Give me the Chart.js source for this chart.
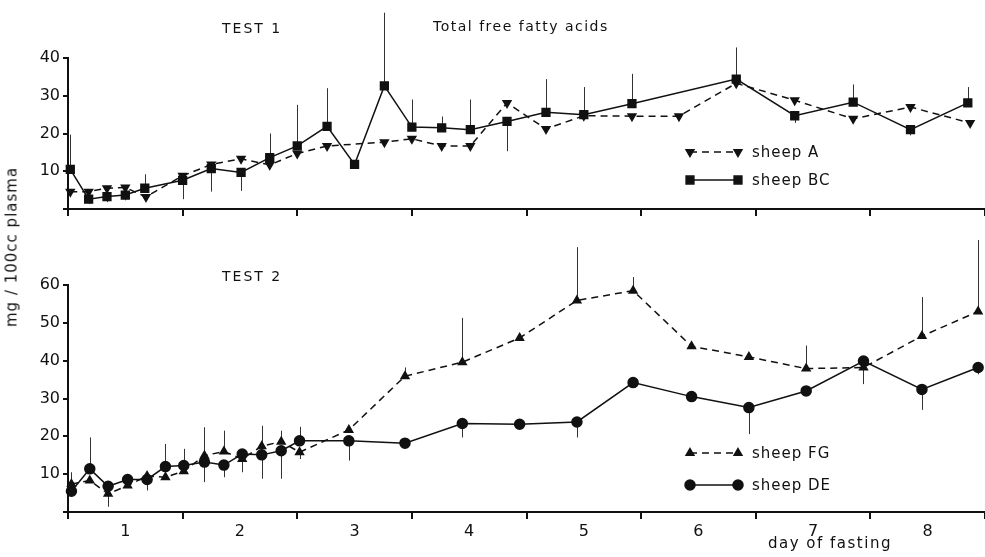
<!DOCTYPE html>
<html>
<head>
<meta charset="utf-8">
<script src="https://cdn.jsdelivr.net/npm/chart.js@4.4.0/dist/chart.umd.min.js"></script>
<style>
body { margin: 0; background: #fff; }
#wrap { position: relative; width: 985px; height: 557px; font-family: "DejaVu Sans", sans-serif; color: #111; }
#topChart { position: absolute; left: 0; top: 0; }
#bottomChart { position: absolute; left: 0; top: 230px; }
.lbl { position: absolute; font-size: 14px; white-space: nowrap; line-height: 1; }
</style>
</head>
<body>
<div id="wrap">
  <canvas id="topChart" width="985" height="230"></canvas>
  <canvas id="bottomChart" width="985" height="327"></canvas>
  <div class="lbl" style="left:222px;top:21px;letter-spacing:2px;">TEST 1</div>
  <div class="lbl" style="left:433px;top:19px;letter-spacing:1.5px;">Total free fatty acids</div>
  <div class="lbl" style="left:222px;top:269px;letter-spacing:2px;">TEST 2</div>
  <div class="lbl" style="left:768px;top:536px;font-size:15px;letter-spacing:1.5px;">day of fasting</div>
  <div class="lbl" style="left:12px;top:247px;font-size:15px;letter-spacing:1px;transform:translate(-50%,-50%) rotate(-90deg);">mg / 100cc plasma</div>
</div>
<script>
// x axis: day of fasting (tick marks at whole days, labels in the middle)
var dayLabels = ['1', '2', '3', '4', '5', '6', '7', '8'];
var topTicks = [10, 20, 30, 40];
var bottomTicks = [10, 20, 30, 40, 50, 60];

// TEST 1
var tA = [0.02, 0.18, 0.34, 0.5, 0.68, 1.0, 1.25, 1.51, 1.76, 2.0, 2.26, 2.76, 3.0, 3.26, 3.51, 3.83, 4.17, 4.5, 4.92, 5.33, 5.83, 6.34, 6.85, 7.35, 7.87];
var sheepA = [4.6, 4.6, 5.5, 5.7, 3.2, 8.8, 11.8, 13.3, 11.7, 14.7, 16.7, 17.7, 18.6, 16.7, 16.7, 28.1, 21.2, 24.7, 24.6, 24.6, 33.3, 28.8, 23.9, 27, 22.8];
var tBC = [0.02, 0.18, 0.34, 0.5, 0.67, 1.0, 1.25, 1.51, 1.76, 2.0, 2.26, 2.5, 2.76, 3.0, 3.26, 3.51, 3.83, 4.17, 4.5, 4.92, 5.83, 6.34, 6.85, 7.35, 7.85];
var sheepBC = [10.5, 2.6, 3.3, 3.7, 5.5, 7.6, 10.7, 9.7, 13.6, 16.7, 21.9, 11.8, 32.6, 21.7, 21.5, 21.0, 23.2, 25.6, 25, 27.9, 34.4, 24.7, 28.3, 21, 28.1];
// end of the S.E. bar for each point (null = no bar)
var errBC = [19.7, 1.3, 1.8, 2.3, 9.2, 2.6, 4.6, 4.8, 20, 27.6, 32, null, 52, 29, 24.5, 29, 15.3, 34.4, 32.3, 35.8, 42.8, 22.8, 33, 19.5, 32.3];

// TEST 2
var tTest2 = [0.03, 0.19, 0.35, 0.52, 0.69, 0.85, 1.01, 1.19, 1.36, 1.52, 1.69, 1.86, 2.02, 2.45, 2.94, 3.44, 3.94, 4.44, 4.93, 5.44, 5.94, 6.44, 6.94, 7.45, 7.94];
var sheepFG = [7.4, 8.3, 4.8, 7, 9.5, 9.2, 10.8, 14.9, 16, 14, 17.4, 18.6, 15.8, 21.7, 35.9, 39.6, 46, 55.9, 58.5, 43.8, 41, 37.9, 38.2, 46.5, 53];
var sheepDE = [5.5, 11.4, 6.8, 8.6, 8.6, 12, 12.3, 13.2, 12.4, 15.3, 15.1, 16.2, 18.8, 18.8, 18.2, 23.4, 23.2, 23.8, 34.2, 30.5, 27.6, 32, 39.9, 32.4, 38.2];
var errFG = [10.5, null, 1.4, null, null, null, null, 22.4, 21.5, 10.5, 22.8, 21.5, 14, null, 38.2, 51.3, null, 70, 62.1, null, null, 44, 33.8, 56.8, 71.9];
var errDE = [null, 19.7, null, null, 5.7, 18, 16.7, 7.9, 9.2, null, 8.8, 8.8, 22.5, 13.6, null, 19.7, null, 19.7, null, null, 20.6, null, null, 27, 36.4];

function pts(t, v) {
  return t.map(function (x, i) { return { x: x, y: v[i] }; });
}

var ink = '#111';
var font = { family: '"DejaVu Sans", sans-serif', size: 16 };

var errorBars = {
  id: 'errorBars',
  beforeDatasetsDraw: function (chart) {
    var ctx = chart.ctx, xs = chart.scales.x, ys = chart.scales.y;
    ctx.save();
    ctx.strokeStyle = '#333';
    ctx.lineWidth = 1;
    chart.data.datasets.forEach(function (ds) {
      if (!ds.tips) return;
      ds.data.forEach(function (p, i) {
        var tip = ds.tips[i];
        if (tip == null) return;
        var x = Math.round(xs.getPixelForValue(p.x)) + 0.5;
        ctx.beginPath();
        ctx.moveTo(x, ys.getPixelForValue(p.y));
        ctx.lineTo(x, ys.getPixelForValue(tip));
        ctx.stroke();
      });
    });
    ctx.restore();
  }
};

var sampleLegend = {
  id: 'sampleLegend',
  afterDraw: function (chart, args, opts) {
    var ctx = chart.ctx;
    chart.data.datasets.forEach(function (ds, k) {
      var y = opts.y[k];
      ctx.save();
      ctx.strokeStyle = ink;
      ctx.fillStyle = ink;
      ctx.lineWidth = 1.5;
      ctx.setLineDash(ds.borderDash || []);
      ctx.beginPath();
      ctx.moveTo(opts.x0, y);
      ctx.lineTo(opts.x1, y);
      ctx.stroke();
      ctx.setLineDash([]);
      [opts.x0, opts.x1].forEach(function (x) {
        Chart.helpers.drawPoint(ctx, {
          pointStyle: ds.pointStyle, radius: ds.pointRadius,
          rotation: ds.pointRotation || 0, borderWidth: 1
        }, x, y);
      });
      ctx.font = '15px "DejaVu Sans"';
      ctx.letterSpacing = '1px';
      ctx.textBaseline = 'middle';
      ctx.fillText(ds.label, opts.tx, y + 1);
      ctx.restore();
    });
  }
};

function makeScales(yMax, yTicks, xLabels, xHeight) {
  return {
    x: {
      type: 'linear', min: 0, max: 8,
      afterFit: function (s) { s.height = xHeight; s.paddingLeft = 0; s.paddingRight = 0; },
      border: { display: true, color: ink, width: 2 },
      grid: {
        drawOnChartArea: false, tickLength: 7, lineWidth: 2,
        tickColor: function (c) { return Number.isInteger(c.tick.value) ? ink : 'rgba(0,0,0,0)'; }
      },
      ticks: {
        stepSize: 0.5, autoSkip: false, maxRotation: 0, padding: 3, color: ink, font: font,
        callback: function (v) {
          if (!xLabels || Number.isInteger(v)) return '';
          return dayLabels[Math.floor(v)];
        }
      }
    },
    y: {
      min: 0, max: yMax,
      afterFit: function (s) { s.width = 68; },
      border: { display: true, color: ink, width: 2 },
      grid: { drawOnChartArea: false, tickLength: 5, lineWidth: 2, tickColor: ink },
      ticks: {
        stepSize: 10, padding: 3, color: ink, font: font,
        callback: function (v) { return yTicks.indexOf(v) >= 0 ? String(v) : ''; }
      }
    }
  };
}

new Chart(document.getElementById('topChart').getContext('2d'), {
  type: 'line',
  data: {
    datasets: [
      {
        label: 'sheep A',
        data: pts(tA, sheepA),
        borderColor: ink, backgroundColor: ink, borderWidth: 1.5, borderDash: [7, 5],
        pointStyle: 'triangle', pointRotation: 180, pointRadius: 4.5,
        pointBackgroundColor: ink, pointBorderColor: ink, tension: 0, clip: false
      },
      {
        label: 'sheep BC',
        data: pts(tBC, sheepBC),
        tips: errBC,
        borderColor: ink, backgroundColor: ink, borderWidth: 1.5,
        pointStyle: 'rect', pointRadius: 5.5,
        pointBackgroundColor: ink, pointBorderColor: ink, tension: 0, clip: false
      }
    ]
  },
  options: {
    responsive: false,
    animation: false,
    devicePixelRatio: 1,
    layout: { autoPadding: false, padding: { top: 58, left: 0, right: 0, bottom: 0 } },
    scales: makeScales(40, topTicks, false, 21),
    plugins: {
      legend: { display: false },
      tooltip: { enabled: false },
      sampleLegend: { x0: 690, x1: 738, tx: 752, y: [152, 180] }
    }
  },
  plugins: [errorBars, sampleLegend]
});

new Chart(document.getElementById('bottomChart').getContext('2d'), {
  type: 'line',
  data: {
    datasets: [
      {
        label: 'sheep FG',
        data: pts(tTest2, sheepFG),
        tips: errFG,
        borderColor: ink, backgroundColor: ink, borderWidth: 1.5, borderDash: [7, 5],
        pointStyle: 'triangle', pointRadius: 4.5,
        pointBackgroundColor: ink, pointBorderColor: ink, tension: 0, clip: false
      },
      {
        label: 'sheep DE',
        data: pts(tTest2, sheepDE),
        tips: errDE,
        borderColor: ink, backgroundColor: ink, borderWidth: 1.5,
        pointStyle: 'circle', pointRadius: 5,
        pointBackgroundColor: ink, pointBorderColor: ink, tension: 0, clip: false
      }
    ]
  },
  options: {
    responsive: false,
    animation: false,
    devicePixelRatio: 1,
    layout: { autoPadding: false, padding: { top: 55, left: 0, right: 0, bottom: 0 } },
    scales: makeScales(60, bottomTicks, true, 45),
    plugins: {
      legend: { display: false },
      tooltip: { enabled: false },
      sampleLegend: { x0: 690, x1: 738, tx: 752, y: [223, 255] }
    }
  },
  plugins: [errorBars, sampleLegend]
});
</script>
</body>
</html>
